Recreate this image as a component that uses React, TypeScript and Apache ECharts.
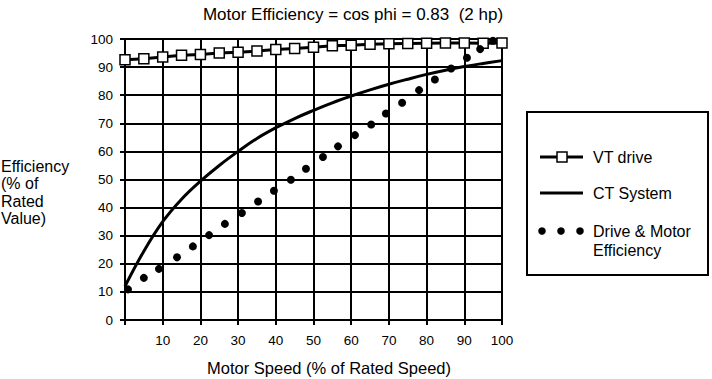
import React, { useEffect, useRef } from "react";
import * as echarts from "echarts";

const vtX = [0, 5, 10, 15, 20, 25, 30, 35, 40, 45, 50, 55, 60, 65, 70, 75, 80, 85, 90, 95, 100];
const vtY = [92.6, 93.0, 93.6, 94.2, 94.5, 95.0, 95.3, 95.7, 96.3, 96.6, 97.1, 97.6, 97.8, 98.1, 98.3, 98.4, 98.5, 98.6, 98.6, 98.5, 98.6];

const ctX = [0, 5, 10, 15, 20, 25, 30, 35, 40, 45, 50, 55, 60, 65, 70, 75, 80, 85, 90, 95, 100];
const ctY = [12, 24.5, 35, 43, 49.4, 55, 60, 64.6, 68.4, 71.7, 74.6, 77.3, 79.7, 81.9, 83.9, 85.7, 87.4, 88.9, 90.2, 91.3, 92.3];

const dmX = [0.8, 5.0, 9.0, 13.8, 18.0, 22.3, 26.5, 31.0, 35.3, 39.5, 44.0, 48.0, 52.5, 56.5, 61.0, 65.3, 69.2, 73.5, 78.0, 82.2, 86.5, 90.7, 94.2, 97.6];
const dmY = [10.9, 15, 18.2, 22.3, 26.2, 30.2, 34.2, 38.1, 42.2, 46, 49.9, 53.8, 58, 61.8, 65.8, 69.6, 73.5, 77.3, 81.8, 85.6, 89.5, 93.3, 96.4, 99.4];

const title = "Motor Efficiency = cos phi = 0.83  (2 hp)";
const xName = "Motor Speed (% of Rated Speed)";
const yNameLines = ["Efficiency", "(% of", "Rated", "Value)"];
const legendNames = ["VT drive", "CT System", "Drive & Motor", "Efficiency"];

const FONT = "Liberation Sans, Arial, sans-serif";

export default function App() {
  const ref = useRef<HTMLDivElement>(null);
  useEffect(() => {
    if (!ref.current) return;
    const chart = echarts.init(ref.current, undefined, { renderer: "svg" });
    const zip = (xs: number[], ys: number[]) => xs.map((x, i) => [x, ys[i]]);
    const txt = { fill: "#000", fontFamily: FONT, fontSize: 16 };
    chart.setOption({
      animation: false,
      backgroundColor: "#fff",
      textStyle: { fontFamily: FONT },
      title: {
        text: title,
        left: 348,
        textAlign: "center",
        top: 1,
        textStyle: { fontSize: 17, fontWeight: "normal", color: "#000", fontFamily: FONT },
      },
      grid: { left: 125, top: 39, width: 377, height: 281, containLabel: false },
      xAxis: {
        type: "value",
        min: 0,
        max: 100,
        interval: 10,
        axisLine: { show: true, lineStyle: { color: "#000", width: 2 } },
        axisTick: { show: true, length: 5, lineStyle: { color: "#000", width: 2 } },
        splitLine: { show: true, lineStyle: { color: "#000", width: 2 } },
        axisLabel: {
          color: "#000",
          fontSize: 13.5,
          fontFamily: FONT,
          margin: 13,
          formatter: (v: number) => (v === 0 ? "" : String(v)),
        },
      },
      yAxis: {
        type: "value",
        min: 0,
        max: 100,
        interval: 10,
        axisLine: { show: true, lineStyle: { color: "#000", width: 2 } },
        axisTick: { show: true, length: 5, lineStyle: { color: "#000", width: 2 } },
        splitLine: { show: true, lineStyle: { color: "#000", width: 2 } },
        axisLabel: { color: "#000", fontSize: 13.5, fontFamily: FONT, margin: 12 },
      },
      series: [
        {
          name: "CT System",
          type: "line",
          data: zip(ctX, ctY),
          smooth: 0.4,
          showSymbol: false,
          symbol: "none",
          lineStyle: { color: "#000", width: 3 },
          z: 3,
        },
        {
          name: "VT drive",
          type: "line",
          data: zip(vtX, vtY),
          symbol: "rect",
          symbolSize: 10,
          lineStyle: { color: "#000", width: 3 },
          itemStyle: { color: "#fff", borderColor: "#000", borderWidth: 1.5 },
          z: 4,
        },
        {
          name: "Drive & Motor Efficiency",
          type: "scatter",
          data: zip(dmX, dmY),
          symbol: "circle",
          symbolSize: 8,
          itemStyle: { color: "#000", opacity: 1 },
          z: 5,
        },
      ],
      graphic: [
        {
          type: "group",
          children: [
            {
              type: "text",
              x: 329,
              y: 368,
              style: { ...txt, fontSize: 16.5, text: xName, align: "center", verticalAlign: "middle" },
            },
            ...yNameLines.map((t, i) => ({
              type: "text",
              x: 1,
              y: 166 + i * 17.5,
              style: { ...txt, text: t, verticalAlign: "middle" },
            })),
            {
              type: "rect",
              shape: { x: 527, y: 112, width: 181, height: 163 },
              style: { fill: "#fff", stroke: "#000", lineWidth: 2 },
            },
            {
              type: "line",
              shape: { x1: 540, y1: 157, x2: 583, y2: 157 },
              style: { stroke: "#000", lineWidth: 3 },
            },
            {
              type: "rect",
              shape: { x: 557, y: 152, width: 10, height: 10 },
              style: { fill: "#fff", stroke: "#000", lineWidth: 1.5 },
            },
            {
              type: "text",
              x: 593,
              y: 157,
              style: { ...txt, text: legendNames[0], verticalAlign: "middle" },
            },
            {
              type: "line",
              shape: { x1: 540, y1: 193, x2: 583, y2: 193 },
              style: { stroke: "#000", lineWidth: 3 },
            },
            {
              type: "text",
              x: 593,
              y: 193,
              style: { ...txt, text: legendNames[1], verticalAlign: "middle" },
            },
            ...[542, 561, 580].map((cx) => ({
              type: "circle",
              shape: { cx, cy: 231, r: 3.8 },
              style: { fill: "#000" },
            })),
            {
              type: "text",
              x: 593,
              y: 231,
              style: { ...txt, text: legendNames[2], verticalAlign: "middle" },
            },
            {
              type: "text",
              x: 593,
              y: 250,
              style: { ...txt, text: legendNames[3], verticalAlign: "middle" },
            },
          ],
        },
      ],
    });
    return () => chart.dispose();
  }, []);
  return (
    <div
      ref={ref}
      style={{ position: "absolute", left: 0, top: 0, width: 712, height: 379, background: "#fff" }}
    />
  );
}
